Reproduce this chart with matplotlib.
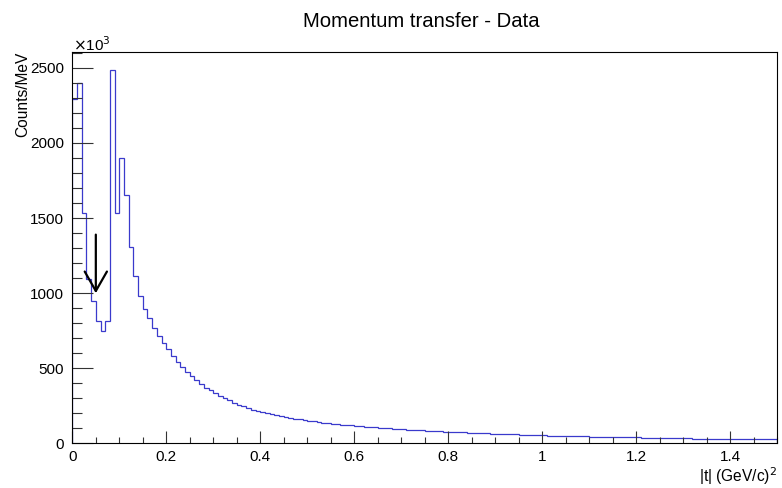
import numpy as np
import matplotlib
matplotlib.use("Agg")
import matplotlib.pyplot as plt

plt.rcParams['font.family'] = ['Liberation Sans', 'DejaVu Sans']

# |t| histogram, 150 bins of 0.01 (GeV/c)^2, counts in units of 10^3
bin_edges = np.linspace(0.0, 1.5, 151)
counts = [
    2290, 2400, 1532, 1095, 950, 814, 747, 814, 2483, 1532,
    1897, 1654, 1307, 1112, 980, 896, 835, 770, 716, 672,
    628, 582, 545, 510, 478, 449, 422, 396, 372, 354,
    334, 316, 301, 288, 272, 259, 248, 237, 226, 217,
    210, 203, 196, 189, 183, 177, 171, 166, 161, 156,
    151, 147, 143, 139, 136, 133, 130, 126, 123, 120,
    117, 114, 112, 109, 107, 105, 102, 100, 98, 96,
    94, 92, 90, 88, 87, 85, 83, 82, 80, 79,
    78, 77, 75, 74, 72, 71, 70, 68, 67, 66,
    65, 63, 62, 61, 60, 59, 58, 57, 56, 55,
    54, 53, 52, 51, 50, 50, 49, 48, 47, 47,
    46, 45, 45, 44, 43, 43, 42, 41, 41, 40,
    40, 39, 38, 38, 37, 37, 36, 36, 35, 35,
    34, 34, 33, 33, 32, 32, 31, 31, 31, 30,
    30, 29, 29, 29, 28, 28, 28, 27, 27, 27,
]
x_ticks = [0, 0.2, 0.4, 0.6, 0.8, 1.0, 1.2, 1.4]
x_tick_labels = ["0", "0.2", "0.4", "0.6", "0.8", "1", "1.2", "1.4"]
y_ticks = [0, 500, 1000, 1500, 2000, 2500]

# arrow marking the cut position
arrow_x = 0.05
arrow_top = 1390
arrow_tip = 1000

fig = plt.figure(figsize=(7.82, 4.88), dpi=100)
ax = fig.add_axes([0.0925, 0.0912, 0.9011, 0.8028])

ax.stairs(counts, bin_edges, color='#3a3acc', linewidth=0.9)

ax.set_xlim(0, 1.5)
ax.set_ylim(0, max(counts) * 1.05)

ax.set_xticks(x_ticks)
ax.set_xticklabels(x_tick_labels)
ax.set_xticks(np.arange(0, 1.501, 0.05), minor=True)
ax.set_yticks(y_ticks)
ax.set_yticks(np.arange(0, 2601, 100), minor=True)

ax.tick_params(axis='both', which='both', direction='in', labelsize=11,
               color='#333333', width=0.8)
ax.tick_params(axis='x', which='major', length=8.6, pad=5)
ax.tick_params(axis='x', which='minor', length=4.3)
ax.tick_params(axis='y', which='major', length=15, pad=6)
ax.tick_params(axis='y', which='minor', length=7.5)
ax.tick_params(top=False, right=False)

for sp in ax.spines.values():
    sp.set_linewidth(0.8)

# arrow: shaft plus two head strokes
ax.annotate("", xy=(arrow_x, arrow_tip), xytext=(arrow_x, arrow_top),
            arrowprops=dict(arrowstyle="->,head_length=1.4,head_width=0.8",
                            color='black', lw=1.6, shrinkA=0, shrinkB=0))

fig.text(0.539, 1 - 21.5 / 488, "Momentum transfer - Data", fontsize=14.6,
         ha='center', va='center')
fig.text(0.093, 1 - 45 / 488, r"$\times$10$^3$", fontsize=11,
         ha='left', va='center')
fig.text(0.029, 1 - 52 / 488, "Counts/MeV", fontsize=11.2, rotation=90,
         ha='center', va='top')
fig.text(0.9936, 1 - 476 / 488, "|t| (GeV/c)$^2$", fontsize=11.2,
         ha='right', va='center')

fig.savefig("out.png", dpi=100)
